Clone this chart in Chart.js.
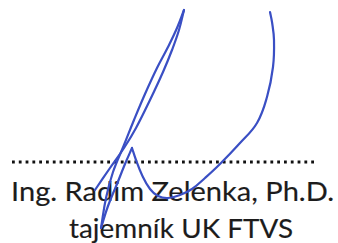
<!DOCTYPE html>
<html>
<head>
<meta charset="utf-8">
<script src="https://cdn.jsdelivr.net/npm/chart.js@4/dist/chart.umd.min.js"></script>
<style>
  html, body { margin:0; padding:0; background:#ffffff; }
  #wrap { position:relative; width:338px; height:243px; overflow:hidden; }
  #txt { position:absolute; left:0; top:0; z-index:0; }
  #c { position:absolute; left:0; top:0; z-index:1; }
</style>
</head>
<body>
<div id="wrap">
  <svg id="txt" width="338" height="243" xmlns="http://www.w3.org/2000/svg"></svg>
  <canvas id="c" width="338" height="243"></canvas>
</div>
<script>
// ---- text lines ----
const textLines = ["Ing. Radim Zelenka, Ph.D.", "tajemník UK FTVS"];
const textX = [11, 69];
const textBaseline = [201, 237.5];
const textWidth = [323, 224];

// ---- dotted signature line ----
const dotsX = [12, 314];
const dotsY = [162, 162];

// ---- signature strokes ----
const stroke1X = [95, 110, 124, 136, 150, 163, 172, 179, 184];
const stroke1Y = [190, 168, 148, 128, 100, 72, 50, 30, 10];
const stroke2X = [184, 177, 168, 157, 145, 134, 124, 113, 106, 101];
const stroke2Y = [10, 28, 47, 68, 94, 120, 145, 172, 198, 228];
const stroke3X = [101, 108, 117, 125, 132];
const stroke3Y = [228, 206, 184, 164, 148];
const stroke4X = [132, 136, 142, 150, 158, 168, 180, 192, 205, 220, 240, 257, 267, 273, 274, 272, 270];
const stroke4Y = [148, 160, 175, 189, 196, 198, 195, 189, 178, 164, 143, 123, 97, 67, 40, 22, 12];

const svg = document.getElementById('txt');
textLines.forEach((s, i) => {
  const t = document.createElementNS('http://www.w3.org/2000/svg', 'text');
  t.setAttribute('x', textX[i]);
  t.setAttribute('y', textBaseline[i]);
  t.setAttribute('textLength', textWidth[i]);
  t.setAttribute('lengthAdjust', 'spacingAndGlyphs');
  t.setAttribute('font-family', 'Lato, "Open Sans", sans-serif');
  t.setAttribute('font-size', '27.5');
  t.setAttribute('fill', '#1c1c1c');
  t.setAttribute('stroke', '#1c1c1c');
  t.setAttribute('stroke-width', '0.15');
  t.textContent = s;
  svg.appendChild(t);
});

const zip = (xs, ys) => xs.map((x, i) => ({ x: x, y: ys[i] }));
const blue = '#3a4fc4';
const strokeDs = (xs, ys) => ({
  data: zip(xs, ys), showLine: true, pointRadius: 0, borderColor: blue,
  borderWidth: 2.2, tension: 0.4, borderCapStyle: 'round', borderJoinStyle: 'round',
  fill: false, order: 0
});

new Chart(document.getElementById('c'), {
  type: 'scatter',
  data: {
    datasets: [
      strokeDs(stroke1X, stroke1Y),
      strokeDs(stroke2X, stroke2Y),
      strokeDs(stroke3X, stroke3Y),
      strokeDs(stroke4X, stroke4Y),
      { data: zip(dotsX, dotsY), showLine: true, pointRadius: 0, borderColor: '#111111',
        borderWidth: 2.8, borderDash: [2.8, 4.0], borderCapStyle: 'butt', fill: false, order: 10 }
    ]
  },
  options: {
    responsive: false,
    animation: false,
    events: [],
    layout: { padding: 0 },
    plugins: { legend: { display: false }, tooltip: { enabled: false }, title: { display: false } },
    scales: {
      x: { type: 'linear', min: 0, max: 338, display: false },
      y: { type: 'linear', min: 0, max: 243, reverse: true, display: false }
    }
  }
});
</script>
</body>
</html>
